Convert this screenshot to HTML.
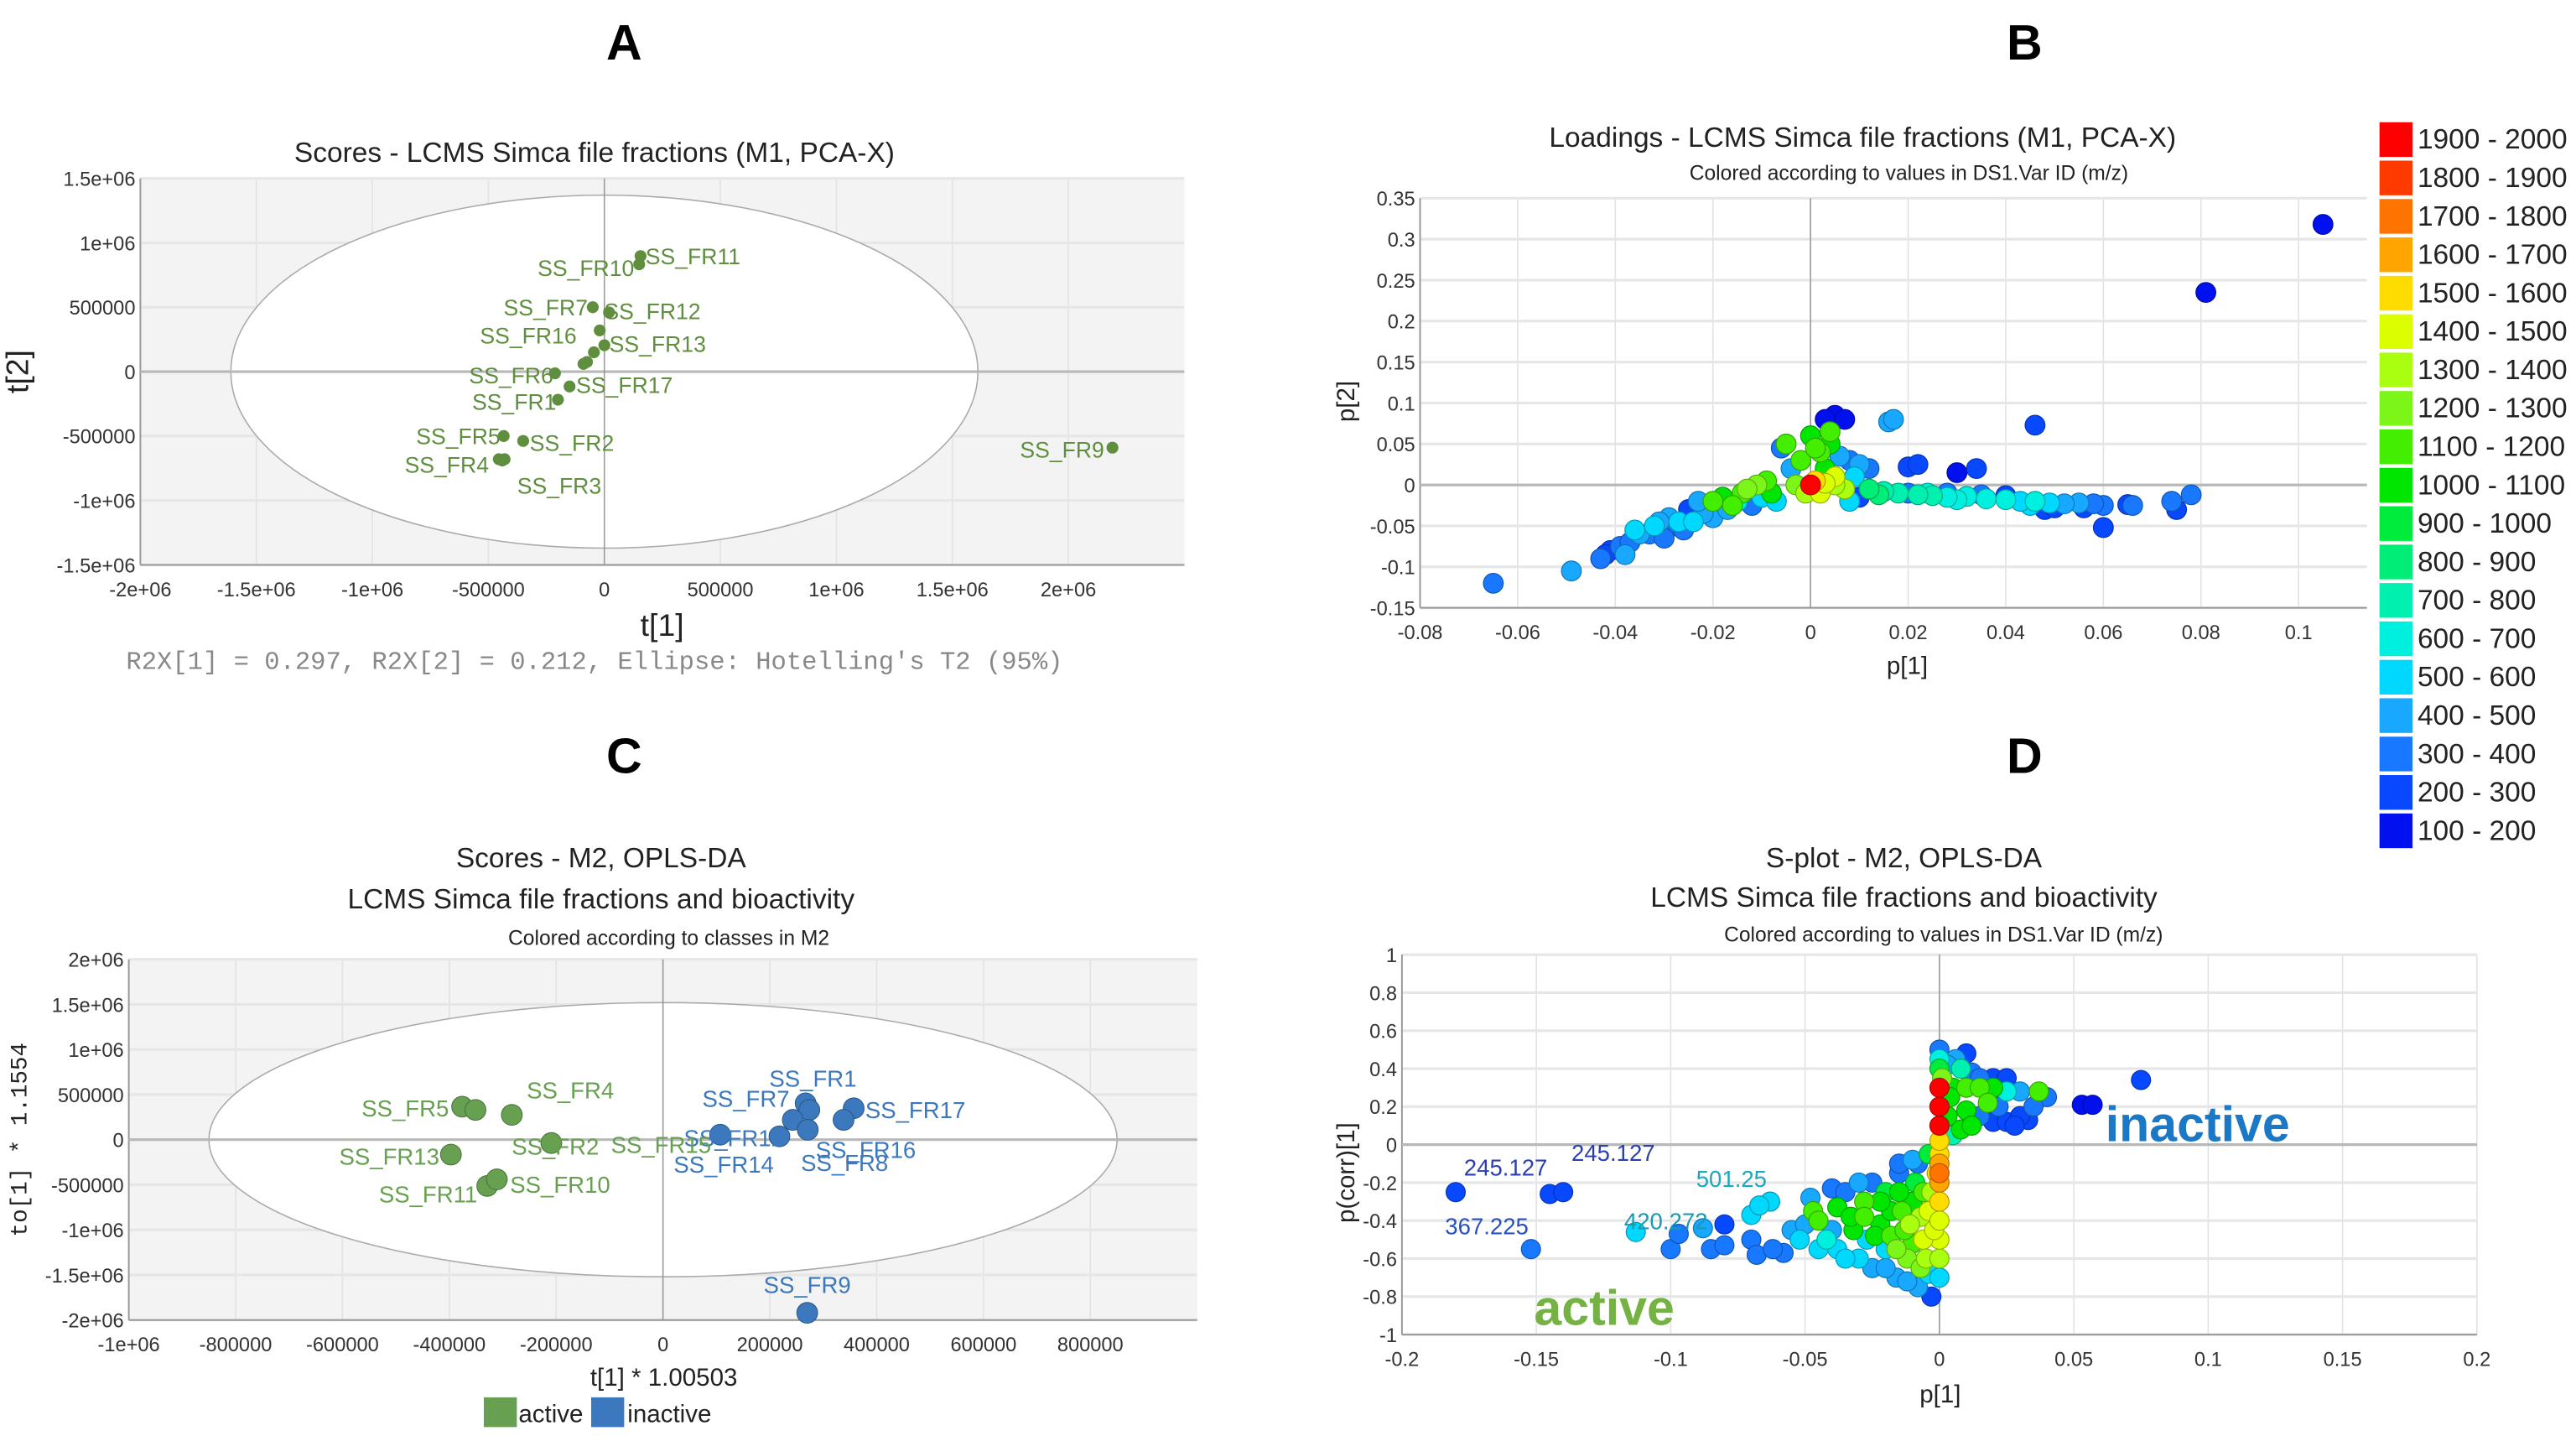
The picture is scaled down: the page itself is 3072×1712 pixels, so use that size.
<!DOCTYPE html>
<html><head><meta charset="utf-8"><style>
html,body{margin:0;padding:0;background:#fff;}
svg{display:block;font-family:"Liberation Sans",sans-serif;}
</style></head><body>
<svg id="fig" width="3072" height="1712" viewBox="0 0 1560 869.4" preserveAspectRatio="none" xmlns="http://www.w3.org/2000/svg">
<g id="root"></g>
</svg>
<script>
// ---------- Panel A data ----------
const aNames=["SS_FR11","SS_FR10","SS_FR7","SS_FR12","SS_FR16","SS_FR13","","","","SS_FR6","SS_FR17","SS_FR1","SS_FR5","SS_FR2","SS_FR4","","SS_FR3","SS_FR9"];
const aT1=[156000,150000,-50000,20000,-20000,0,-45000,-75000,-90000,-213000,-150000,-200000,-434000,-350000,-455000,-430000,-440000,2190000];
const aT2=[897000,833000,500000,460000,320000,205000,150000,75000,60000,-13000,-115000,-218000,-500000,-538000,-680000,-680000,-690000,-590000];
const aXTicks=[-2e6,-1.5e6,-1e6,-5e5,0,5e5,1e6,1.5e6,2e6];
const aXLabels=["-2e+06","-1.5e+06","-1e+06","-500000","0","500000","1e+06","1.5e+06","2e+06"];
const aYTicks=[1.5e6,1e6,5e5,0,-5e5,-1e6,-1.5e6];
const aYLabels=["1.5e+06","1e+06","500000","0","-500000","-1e+06","-1.5e+06"];
// ---------- Panel B data ----------
const bP1=[0.105,0.081,0.046,0.06,-0.065,-0.049,0.016,0.017,0.005,0.003,0.007,0.034,0.03,0.02,0.022,0.078,0.074,0.075,0.065,0.066,0.06,0.058,
-0.043,-0.041,-0.038,-0.037,-0.036,-0.033,-0.031,-0.03,-0.028,-0.027,-0.025,-0.024,-0.022,-0.02,-0.02,-0.017,-0.015,-0.014,-0.012,-0.011,-0.01,-0.008,-0.006,-0.005,-0.004,-0.003,-0.002,-0.001,
0.0,0.002,0.004,0.003,0.006,0.008,0.01,0.012,0.001,0.003,0.005,0.007,0.008,
0.012,0.015,0.018,0.022,0.025,0.028,0.032,0.036,0.04,0.043,0.046,0.049,0.052,0.055,0.048,0.05,0.028,0.035,0.04,0.02,0.01,
-0.035,-0.032,-0.029,-0.026,-0.023,-0.018,-0.016,-0.013,-0.009,-0.007,0.001,0.004,0.002,0.005,0.009,0.014,0.024,0.03,0.045,0.056,-0.039,-0.042,0.0];
const bP2=[0.318,0.235,0.073,-0.052,-0.12,-0.105,0.077,0.08,0.085,0.08,0.08,0.02,0.015,0.022,0.025,-0.012,-0.02,-0.03,-0.024,-0.025,-0.025,-0.023,
-0.09,-0.08,-0.085,-0.07,-0.055,-0.06,-0.045,-0.065,-0.05,-0.045,-0.03,-0.045,-0.035,-0.02,-0.04,-0.03,-0.02,-0.01,-0.025,0,-0.015,-0.01,0.045,0.05,0.02,0,0.03,-0.01,
0.06,0.04,0.05,0.02,0.035,0.03,0.025,0.02,0.005,0.002,0,-0.005,-0.02,
-0.005,-0.008,-0.01,-0.012,-0.013,-0.015,-0.014,-0.017,-0.018,-0.02,-0.02,-0.022,-0.023,-0.022,-0.03,-0.028,-0.01,-0.012,-0.013,-0.01,-0.015,
-0.06,-0.05,-0.04,-0.055,-0.02,-0.015,-0.025,-0.005,0.005,-0.02,0.045,0.065,-0.01,0.01,0.01,-0.012,-0.01,-0.018,-0.025,-0.028,-0.075,-0.085,0];
const bMz=[150,150,200,200,300,450,450,450,150,150,150,200,150,200,200,300,300,250,250,300,300,350,
300,250,450,350,550,300,450,350,300,500,250,550,450,1150,400,450,600,1100,300,1200,500,1000,300,1150,450,1200,1100,1300,
1000,1100,1000,1050,450,350,450,300,1500,1450,1350,1300,550,
850,750,700,750,700,650,600,650,600,550,600,500,450,400,200,250,350,300,250,300,250,
400,550,400,350,450,1000,1150,1200,1100,550,1100,1150,1400,1400,500,800,650,600,500,250,300,250,1950];
const bXTicks=[-0.08,-0.06,-0.04,-0.02,0,0.02,0.04,0.06,0.08,0.1];
const bXLabels=["-0.08","-0.06","-0.04","-0.02","0","0.02","0.04","0.06","0.08","0.1"];
const bYTicks=[0.35,0.3,0.25,0.2,0.15,0.1,0.05,0,-0.05,-0.1,-0.15];
const bYLabels=["0.35","0.3","0.25","0.2","0.15","0.1","0.05","0","-0.05","-0.1","-0.15"];
// ---------- Legend ----------
const legLabels=["1900 - 2000","1800 - 1900","1700 - 1800","1600 - 1700","1500 - 1600","1400 - 1500","1300 - 1400","1200 - 1300","1100 - 1200","1000 - 1100","900 - 1000","800 - 900","700 - 800","600 - 700","500 - 600","400 - 500","300 - 400","200 - 300","100 - 200"];
const legColors=["#ff0000","#ff3a00","#ff7400","#ffa500","#ffdc00","#dcff00","#aaff10","#7cf518","#44ee00","#00e600","#00ec3c","#00ee78","#00f0b0","#00f0e0","#00d8ff","#18a8ff","#1878ff","#0848ff","#0010ee"];
// ---------- Panel C data ----------
const cNames=["SS_FR5","","SS_FR4","SS_FR2","SS_FR13","SS_FR11","SS_FR10","SS_FR1","SS_FR7","","","","SS_FR17","","SS_FR12","SS_FR9"];
const cClass=["a","a","a","a","a","a","a","i","i","i","i","i","i","i","i","i"];
const cT1=[-376000,-351000,-283000,-209000,-397000,-329000,-311000,267000,274000,243000,271000,218000,357000,338000,107000,270000];
const cTo1=[366000,330000,275000,-37000,-165000,-513000,-440000,403000,330000,220000,110000,37000,348000,220000,55000,-1920000];
const cXTicks=[-1e6,-8e5,-6e5,-4e5,-2e5,0,2e5,4e5,6e5,8e5];
const cXLabels=["-1e+06","-800000","-600000","-400000","-200000","0","200000","400000","600000","800000"];
const cYTicks=[2e6,1.5e6,1e6,5e5,0,-5e5,-1e6,-1.5e6,-2e6];
const cYLabels=["2e+06","1.5e+06","1e+06","500000","0","-500000","-1e+06","-1.5e+06","-2e+06"];
// ---------- Panel D data ----------
const dP1=[-0.18,-0.145,-0.14,-0.152,-0.113,-0.1,-0.097,-0.088,-0.085,-0.08,-0.08,-0.07,-0.067,-0.063,-0.07,-0.068,-0.062,-0.058,-0.055,-0.052,-0.048,-0.047,-0.045,-0.04,-0.04,-0.038,-0.035,-0.033,-0.03,-0.028,-0.027,-0.025,-0.022,-0.02,-0.02,-0.018,-0.016,-0.015,-0.013,-0.012,-0.01,-0.01,-0.008,-0.008,-0.007,-0.006,-0.005,-0.004,-0.004,-0.003,-0.002,-0.001,0,0,0,0,0,0,
0,0,0,0.001,0.005,0.01,0.003,0.008,0.012,0.015,0.02,0.025,0.01,0.015,0.02,0.025,0.03,0.037,0.04,0.01,0.015,0.02,0.025,0.03,0.005,0.008,0.053,0.057,0.075,
-0.05,-0.045,-0.042,-0.038,-0.035,-0.032,-0.03,-0.028,-0.025,-0.024,-0.022,-0.02,-0.018,-0.016,-0.015,-0.014,-0.012,-0.011,-0.009,-0.007,-0.006,-0.004,-0.003,0,0,0,0.003,0.004,0.006,0.018,0.022,0.028,0.033,0.035,0.012,-0.01,-0.015,
0,0,0,0];
const dCorr=[-0.25,-0.26,-0.25,-0.55,-0.46,-0.55,-0.47,-0.44,-0.55,-0.42,-0.53,-0.37,-0.32,-0.3,-0.5,-0.58,-0.55,-0.57,-0.45,-0.5,-0.28,-0.35,-0.55,-0.23,-0.45,-0.33,-0.6,-0.38,-0.2,-0.3,-0.5,-0.65,-0.42,-0.25,-0.55,-0.35,-0.7,-0.15,-0.45,-0.6,-0.3,-0.52,-0.75,-0.1,-0.38,-0.25,-0.6,-0.05,-0.68,-0.8,-0.45,-0.15,-0.2,-0.3,-0.4,-0.5,-0.6,-0.05,
0.5,0.45,0.4,0.35,0.3,0.48,0.42,0.4,0.38,0.35,0.35,0.35,0.3,0.3,0.3,0.28,0.28,0.28,0.25,0.18,0.15,0.12,0.12,0.15,0.05,0.08,0.21,0.21,0.34,
-0.42,-0.4,-0.5,-0.55,-0.25,-0.45,-0.6,-0.38,-0.2,-0.48,-0.3,-0.65,-0.48,-0.55,-0.25,-0.35,-0.72,-0.42,-0.2,-0.65,-0.5,-0.35,-0.25,-0.7,-0.1,-0.15,0.15,0.25,0.45,0.22,0.2,0.1,0.13,0.2,0.1,-0.08,-0.1,
0.3,0.2,0.1,0.02];
const dMz=[245,245,245,300,500,300,300,400,300,250,300,550,550,500,300,300,350,300,450,550,400,1100,500,300,450,1000,550,1050,400,1100,500,400,1000,900,550,1050,450,350,1150,1200,1000,1100,400,300,1300,1100,1300,900,500,200,1450,1550,1650,1550,1450,1400,1300,1500,
300,600,900,1200,1000,200,450,700,300,350,200,200,1100,1100,1000,600,400,1150,300,1000,350,200,250,250,700,1000,150,150,200,
450,1100,600,500,350,1000,500,1100,300,1000,1050,450,1100,1200,1000,1150,450,1300,900,1200,1400,1400,1350,500,1600,1700,1000,1000,400,1100,300,250,200,350,1000,400,350,
1950,1950,1950,1500];
const dXTicks=[-0.2,-0.15,-0.1,-0.05,0,0.05,0.1,0.15,0.2];
const dXLabels=["-0.2","-0.15","-0.1","-0.05","0","0.05","0.1","0.15","0.2"];
const dYTicks=[1,0.8,0.6,0.4,0.2,0,-0.2,-0.4,-0.6,-0.8,-1];
const dYLabels=["1","0.8","0.6","0.4","0.2","0","-0.2","-0.4","-0.6","-0.8","-1"];
const dAnnLabels=["245.127","245.127","367.225","420.272","501.25"];
const dAnnIdx=[0,2,3,8,13];

const NS="http://www.w3.org/2000/svg";
const root=document.getElementById('root');
function el(tag,attrs,parent,text){const e=document.createElementNS(NS,tag);for(const k in attrs)e.setAttribute(k,attrs[k]);if(text!==undefined)e.textContent=text;(parent||root).appendChild(e);return e;}
function lin(d0,d1,r0,r1){return v=>r0+(v-d0)*(r1-r0)/(d1-d0);}
function mzColor(m){let i=18-Math.min(18,Math.max(0,Math.floor((m-100)/100)));return legColors[i];}
function shade(c){const n=parseInt(c.slice(1),16);let r=(n>>16)&255,g=(n>>8)&255,b=n&255;return `rgb(${r*0.7|0},${g*0.7|0},${b*0.7|0})`;}

function axes(g,x,y,xd,yd,xt,xl,yt,yl,bg,name){
  const x0=x(xd[0]),x1=x(xd[1]),y0=y(yd[1]),y1=y(yd[0]);
  const r=el('rect',{x:x0,y:y0,width:x1-x0,height:y1-y0,fill:bg},g);
  
  xt.forEach((v,i)=>{const l=el('line',{x1:x(v),x2:x(v),y1:y0,y2:y1,stroke:'#e2e2e2','stroke-width':0.8},g);
    
    const t=el('text',{x:x(v),y:y1+19,'text-anchor':'middle','font-size':12,fill:'#333'},g,xl[i]);
    });
  yt.forEach((v,i)=>{const l=el('line',{x1:x0,x2:x1,y1:y(v),y2:y(v),stroke:'#e6e6e6','stroke-width':1.6},g);
    
    const t=el('text',{x:x0-3,y:y(v)+4.5,'text-anchor':'end','font-size':12,fill:'#333'},g,yl[i]);
    });
  const ax=el('line',{x1:x0,x2:x1,y1:y1,y2:y1,stroke:'#999','stroke-width':1},g);
  
  const ay=el('line',{x1:x0,x2:x0,y1:y0,y2:y1,stroke:'#999','stroke-width':1},g);
  
  return {x0,x1,y0,y1};
}
function zeroLines(g,x,y,b,name){
  const h=el('line',{x1:b.x0,x2:b.x1,y1:y(0),y2:y(0),stroke:'#b8b8b8','stroke-width':1.6},g);
  
  const v=el('line',{x1:x(0),x2:x(0),y1:b.y0,y2:b.y1,stroke:'#999','stroke-width':0.8},g);
  
}
function txt(g,x,y,s,size,attrs,name){const a=Object.assign({x:x,y:y,'font-size':size,'text-anchor':'middle',fill:'#222'},attrs||{});const t=el('text',a,g,s);return t;}

// ================= Panel A =================
{
const g=el('g',{});
const x=lin(-2e6,2e6,85,647),y=lin(-1.5e6,1.5e6,342,108);
const b=axes(g,x,y,[-2e6,2.5e6],[-1.5e6,1.5e6],aXTicks,aXLabels,aYTicks,aYLabels,'#f3f3f3','panel-a');
const e=el('ellipse',{cx:x(0),cy:y(0),rx:x(1.61e6)-x(0),ry:y(0)-y(1.37e6),fill:'#fff',stroke:'#aaa','stroke-width':0.8},g);

zeroLines(g,x,y,b,'panel-a');
txt(g,378,36,'A',30,{'font-weight':'bold',fill:'#000'},'panel-a-letter');
txt(g,360,98,'Scores - LCMS Simca file fractions (M1, PCA-X)',17,{},'panel-a-title');
txt(g,401,385,'t[1]',19,{},'panel-a-x-axis-title');
txt(g,17,225,'t[2]',19,{transform:'rotate(-90 17 225)'},'panel-a-y-axis-title');
txt(g,360,405,"R2X[1] = 0.297, R2X[2] = 0.212, Ellipse: Hotelling's T2 (95%)",15.5,{'font-family':'Liberation Mono, monospace',fill:'#888'},'panel-a-footnote');
const offs={"SS_FR11":[3,5,'start'],"SS_FR10":[-3,7,'end'],"SS_FR7":[-3,5,'end'],"SS_FR12":[-3,4,'start'],"SS_FR16":[-14,8,'end'],"SS_FR13":[3,4,'start'],"SS_FR6":[-1,6,'end'],"SS_FR17":[4,4,'start'],"SS_FR1":[-1,6,'end'],"SS_FR5":[-2,5,'end'],"SS_FR2":[4,6,'start'],"SS_FR4":[-6,8,'end'],"SS_FR3":[9,20,'start'],"SS_FR9":[-5,6,'end']};
aT1.forEach((v,i)=>{const c=el('circle',{cx:x(v),cy:y(aT2[i]),r:3.6,fill:'#5f8f3e'},g);
  
  const n=aNames[i];if(n){const o=offs[n];const t=el('text',{x:x(v)+o[0],y:y(aT2[i])+o[1],'font-size':13.5,fill:'#5f8f3e','text-anchor':o[2]},g,n);
  }});
}
// ================= Panel B =================
{
const g=el('g',{});
const x=lin(-0.08,0.1,860,1392),y=lin(-0.15,0.35,368,120);
const b=axes(g,x,y,[-0.08,0.114],[-0.15,0.35],bXTicks,bXLabels,bYTicks,bYLabels,'#fff','panel-b');
zeroLines(g,x,y,b,'panel-b');
txt(g,1226,36,'B',30,{'font-weight':'bold',fill:'#000'},'panel-b-letter');
txt(g,1128,89,'Loadings - LCMS Simca file fractions (M1, PCA-X)',17,{},'panel-b-title');
txt(g,1156,109,'Colored according to values in DS1.Var ID (m/z)',12.5,{},'panel-b-subtitle');
txt(g,1155,408,'p[1]',15,{},'panel-b-x-axis-title');
txt(g,820,243,'p[2]',15,{transform:'rotate(-90 820 243)'},'panel-b-y-axis-title');
const idx=bP1.map((v,i)=>i).sort((a,c)=>bMz[a]-bMz[c]);
idx.forEach(i=>{const col=mzColor(bMz[i]);const c=el('circle',{cx:x(bP1[i]),cy:y(bP2[i]),r:6,fill:col,stroke:shade(col),'stroke-width':0.6},g);
  });
const lg=el('g',{},root);
legLabels.forEach((s,i)=>{const yy=74+i*23.25;
  const r=el('rect',{x:1441,y:yy,width:20,height:21,fill:legColors[i]},lg);
  const t=el('text',{x:1464,y:yy+16,'font-size':17,fill:'#222'},lg,s);});
}
// ================= Panel C =================
{
const g=el('g',{});
const x=lin(0,2e5,401.5,466.2),y=lin(0,5e5,690,662.7);
const b=axes(g,x,y,[-1e6,1e6],[-2e6,2e6],cXTicks,cXLabels,cYTicks,cYLabels,'#f3f3f3','panel-c');
const e=el('ellipse',{cx:x(0),cy:y(0),rx:x(8.5e5)-x(0),ry:y(0)-y(1.52e6),fill:'#fff',stroke:'#aaa','stroke-width':0.8},g);

zeroLines(g,x,y,b,'panel-c');
txt(g,378,468,'C',30,{'font-weight':'bold',fill:'#000'},'panel-c-letter');
txt(g,364,525,'Scores - M2, OPLS-DA',17,{},'panel-c-title');
txt(g,364,550,'LCMS Simca file fractions and bioactivity',17,{},'panel-c-title-line2');
txt(g,405,572,'Colored according to classes in M2',12.5,{},'panel-c-subtitle');
txt(g,402,839,'t[1] * 1.00503',15,{},'panel-c-x-axis-title');
txt(g,16,690,'to[1] * 1.1554',14,{'font-family':'Liberation Mono, monospace',transform:'rotate(-90 16 690)'},'panel-c-y-axis-title');
const ga='#66a050',gi='#3b78bd';
const offs={"SS_FR5":[-8,6,'end'],"SS_FR4":[9,-10,'start'],"SS_FR2":[-24,7,'start'],"SS_FR13":[-7,6,'end'],"SS_FR11":[-6,10,'end'],"SS_FR10":[8,8,'start'],"SS_FR1":[-22,-10,'start'],"SS_FR7":[-12,-2,'end'],"SS_FR17":[7,6,'start'],"SS_FR12":[-22,7,'start'],"SS_FR9":[0,-12,'middle']};
cT1.forEach((v,i)=>{const col=cClass[i]==='a'?ga:gi;const c=el('circle',{cx:x(v),cy:y(cTo1[i]),r:6.3,fill:col,stroke:shade(col),'stroke-width':0.5},g);
  
  const n=cNames[i];if(n){const o=offs[n];const t=el('text',{x:x(v)+o[0],y:y(cTo1[i])+o[1],'font-size':14,fill:col,'text-anchor':o[2]},g,n);
  }});
[["SS_FR15",370,698,ga],["SS_FR16",494,701,gi],["SS_FR14",408,710,gi],["SS_FR8",485,709,gi]].forEach(a=>{const t=el('text',{x:a[1],y:a[2],'font-size':14,fill:a[3]},g,a[0]);});
const l1=el('rect',{x:293,y:846,width:20,height:18,fill:ga},g);
txt(g,314,861,'active',15,{'text-anchor':'start'},'legend-active-entry');
const l2=el('rect',{x:358,y:846,width:20,height:18,fill:gi},g);
txt(g,380,861,'inactive',15,{'text-anchor':'start'},'legend-inactive-entry');
}
// ================= Panel D =================
{
const g=el('g',{});
const x=lin(-0.2,0.2,849,1500),y=lin(-1,1,808,578);
const b=axes(g,x,y,[-0.2,0.2],[-1,1],dXTicks,dXLabels,dYTicks,dYLabels,'#fff','panel-d');
zeroLines(g,x,y,b,'panel-d');
txt(g,1226,468,'D',30,{'font-weight':'bold',fill:'#000'},'panel-d-letter');
txt(g,1153,525,'S-plot - M2, OPLS-DA',17,{},'panel-d-title');
txt(g,1153,549,'LCMS Simca file fractions and bioactivity',17,{},'panel-d-title-line2');
txt(g,1177,570,'Colored according to values in DS1.Var ID (m/z)',12.5,{},'panel-d-subtitle');
txt(g,1175,849,'p[1]',15,{},'panel-d-x-axis-title');
txt(g,820,710,'p(corr)[1]',15,{transform:'rotate(-90 820 710)'},'panel-d-y-axis-title');
const idx=dP1.map((v,i)=>i).sort((a,c)=>dMz[a]-dMz[c]);
idx.forEach(i=>{const col=mzColor(dMz[i]);const c=el('circle',{cx:x(dP1[i]),cy:y(dCorr[i]),r:5.8,fill:col,stroke:shade(col),'stroke-width':0.6},g);
  });
const aOff=[[5,-10,'start','#2a3fb0'],[5,-19,'start','#2a3fb0'],[-52,-9,'start','#2a50c0'],[-2,-12,'end','#1a9ab0'],[-2,-9,'end','#18a8c0']];
dAnnLabels.forEach((s,i)=>{const k=dAnnIdx[i];const o=aOff[i];const t=el('text',{x:x(dP1[k])+o[0],y:y(dCorr[k])+o[1],'font-size':14,fill:o[3],'text-anchor':o[2]},g,s);
  });
txt(g,1275,691,'inactive',30,{'text-anchor':'start','font-weight':'bold',fill:'#1a78c4'},'panel-d-inactive-annotation');
txt(g,929,802,'active',30,{'text-anchor':'start','font-weight':'bold',fill:'#74b244'},'panel-d-active-annotation');
}
</script>
</body></html>
